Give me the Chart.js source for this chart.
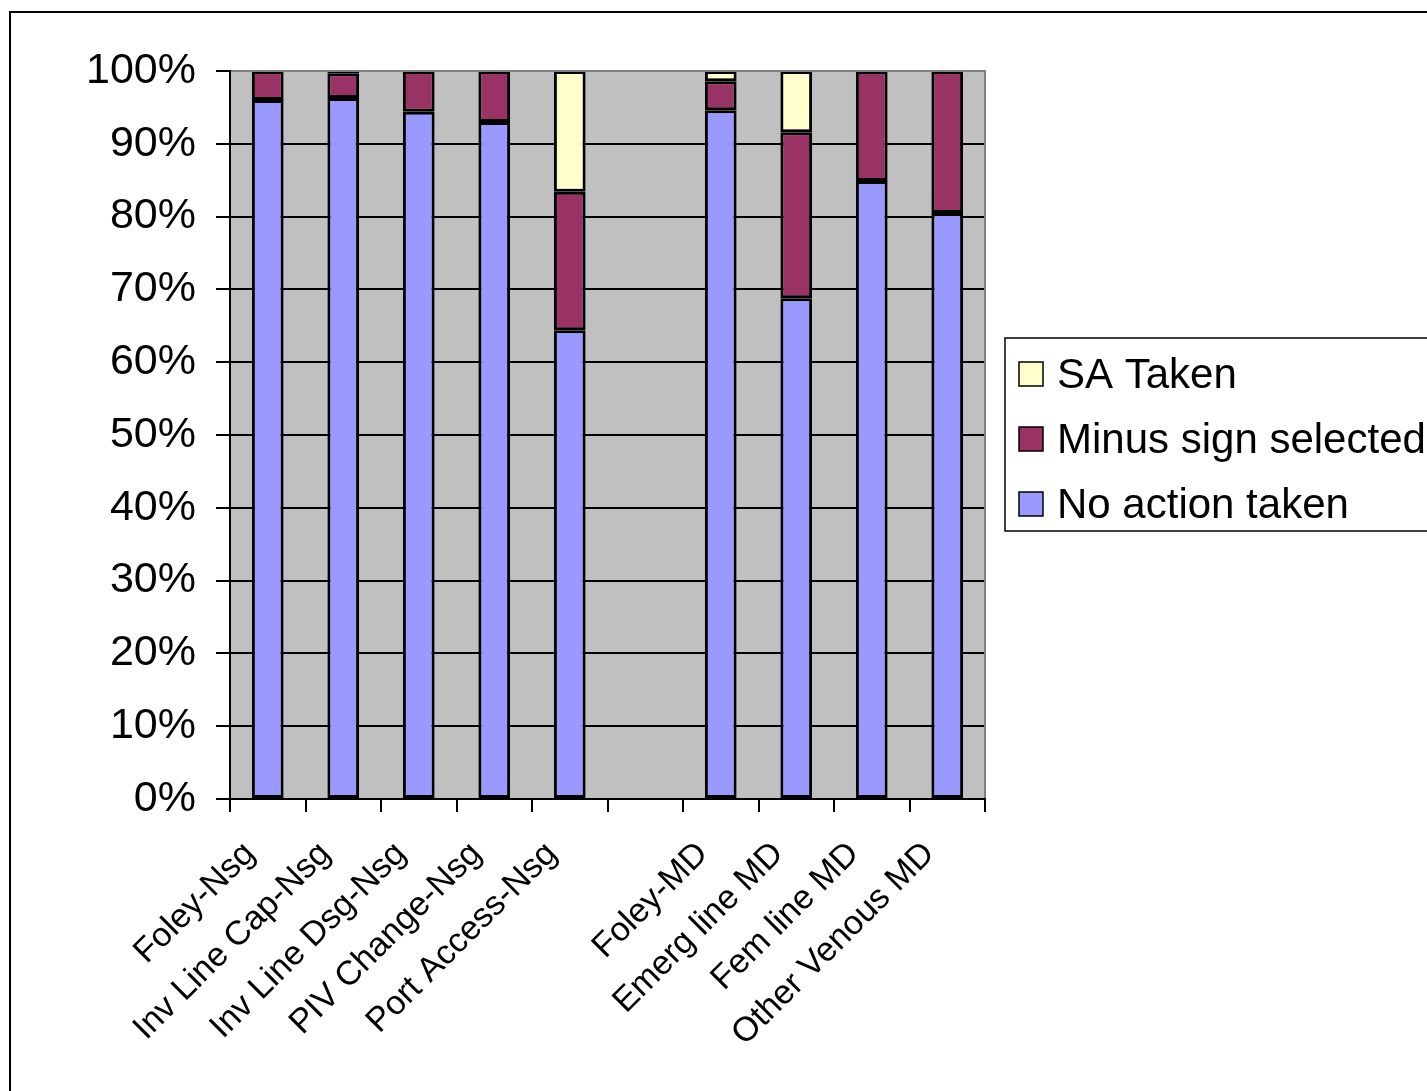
<!DOCTYPE html>
<html>
<head>
<meta charset="utf-8">
<title>Action taken by order type</title>
<script src="https://cdn.jsdelivr.net/npm/chart.js@4.4.1/dist/chart.umd.min.js"></script>
<style>
  html, body { margin: 0; padding: 0; background: #ffffff; }
  #wrap { position: relative; width: 1427px; height: 1091px; overflow: hidden; }
  canvas { display: block; }
</style>
</head>
<body>
<div id="wrap"><canvas id="c" width="1427" height="1091"></canvas></div>
<script>
// Order types (blank slot separates nursing and physician orders)
const categories = [
  'Foley-Nsg', 'Inv Line Cap-Nsg', 'Inv Line Dsg-Nsg', 'PIV Change-Nsg', 'Port Access-Nsg',
  '', 'Foley-MD', 'Emerg line MD', 'Fem line MD', 'Other Venous MD'
];

// Share of responses, percent (null = no segment)
const noActionTaken = [96.0, 96.3, 94.4, 93.0, 64.4, null, 94.6, 68.8, 84.9, 80.5];
const minusSignSelected = [4.0, 3.4, 5.6, 7.0, 19.0, null, 4.0, 22.8, 15.1, 19.5];
const saTaken = [null, 0.3, null, null, 16.6, null, 1.4, 8.4, null, null];

const yTicks = [0, 10, 20, 30, 40, 50, 60, 70, 80, 90, 100];

const FONT = "'Liberation Sans', Arial, sans-serif";

// Grey plot background and outer frame
const backdrop = {
  id: 'backdrop',
  beforeDraw(chart) {
    const { ctx, chartArea: a } = chart;
    ctx.save();
    ctx.fillStyle = '#ffffff';
    ctx.fillRect(0, 0, chart.width, chart.height);
    ctx.strokeStyle = '#000000';
    ctx.lineWidth = 2;
    ctx.strokeRect(10, 12, chart.width + 20, chart.height + 20);
    ctx.fillStyle = '#c0c0c0';
    ctx.fillRect(a.left, a.top, a.right - a.left, a.bottom - a.top);
    ctx.restore();
  },
  afterDatasetsDraw(chart) {
    const { ctx, chartArea: a } = chart;
    ctx.save();
    ctx.strokeStyle = '#808080';
    ctx.lineWidth = 2;
    ctx.beginPath();
    ctx.moveTo(a.left + 1, a.top);
    ctx.lineTo(a.right, a.top);
    ctx.lineTo(a.right, a.bottom - 1);
    ctx.stroke();
    ctx.restore();
  }
};

// Boxed legend at the right, top series first
const boxLegend = {
  id: 'boxLegend',
  afterDraw(chart) {
    const { ctx } = chart;
    const items = chart.data.datasets.slice().reverse();
    const x = 1005, y = 338, w = 460, h = 193;
    ctx.save();
    ctx.fillStyle = '#ffffff';
    ctx.fillRect(x, y, w, h);
    ctx.strokeStyle = '#000000';
    ctx.lineWidth = 1.5;
    ctx.strokeRect(x, y, w, h);
    ctx.font = '42px ' + FONT;
    ctx.textBaseline = 'middle';
    items.forEach((ds, i) => {
      const cy = 374 + i * 65;
      ctx.fillStyle = ds.backgroundColor;
      ctx.fillRect(1019, cy - 12, 24, 24);
      ctx.strokeStyle = '#000000';
      ctx.lineWidth = 1.5;
      ctx.strokeRect(1019, cy - 12, 24, 24);
      ctx.fillStyle = '#000000';
      ctx.fillText(ds.label, 1057, cy + 2);
    });
    ctx.restore();
  }
};

const barStyle = {
  borderColor: '#000000',
  borderWidth: 3,
  borderSkipped: false,
  inflateAmount: 0,
  barPercentage: 0.42,
  categoryPercentage: 1.0
};

new Chart(document.getElementById('c'), {
  type: 'bar',
  data: {
    labels: categories,
    datasets: [
      Object.assign({ label: 'No action taken', data: noActionTaken, backgroundColor: '#9999ff' }, barStyle),
      Object.assign({ label: 'Minus sign selected', data: minusSignSelected, backgroundColor: '#993366' }, barStyle),
      Object.assign({ label: 'SA Taken', data: saTaken, backgroundColor: '#ffffcc' }, barStyle)
    ]
  },
  options: {
    responsive: false,
    animation: false,
    layout: { padding: { left: 0, top: 71, right: 442, bottom: 0 } },
    plugins: {
      legend: { display: false },
      tooltip: { enabled: false }
    },
    scales: {
      x: {
        stacked: true,
        offset: true,
        grid: {
          offset: true,
          drawOnChartArea: false,
          drawTicks: true,
          tickLength: 13,
          color: '#000000',
          lineWidth: 2
        },
        border: { display: true, color: '#000000', width: 2 },
        ticks: {
          autoSkip: false,
          maxRotation: 45,
          minRotation: 45,
          padding: 22,
          labelOffset: -18,
          color: '#000000',
          font: { family: FONT, size: 34 }
        },
        afterFit(scale) { scale.height = 292; }
      },
      y: {
        stacked: true,
        min: 0,
        max: 100,
        afterBuildTicks(scale) { scale.ticks = yTicks.map(v => ({ value: v })); },
        grid: {
          color: '#000000',
          lineWidth: 2,
          tickLength: 14,
          drawTicks: true
        },
        border: { display: true, color: '#000000', width: 2 },
        ticks: {
          padding: 20,
          color: '#000000',
          font: { family: FONT, size: 43 },
          callback: v => v + '%'
        },
        afterFit(scale) { scale.width = 230; }
      }
    }
  },
  plugins: [backdrop, boxLegend]
});
</script>
</body>
</html>
